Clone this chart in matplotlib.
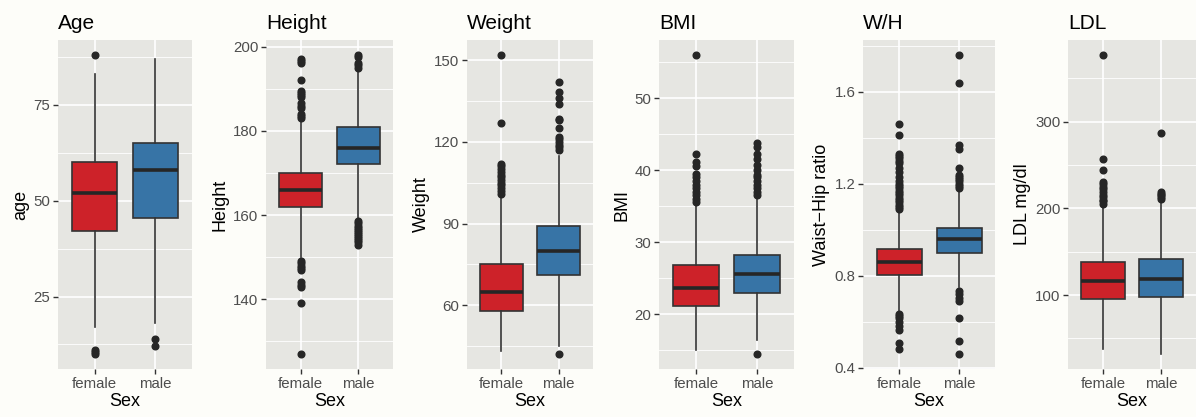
import matplotlib
matplotlib.use("Agg")
import matplotlib.pyplot as plt
from matplotlib.ticker import MultipleLocator

plt.rcParams['font.family'] = ['Liberation Sans', 'DejaVu Sans']

groups = ["female", "male"]
fill_colors = ["#CD2229", "#3774A6"]

titles = ["Age", "Height", "Weight", "BMI", "W/H", "LDL"]
ylabels = ["age", "Height", "Weight", "BMI", "Waist\u2212Hip ratio", "LDL mg/dl"]
major_steps = [25, 20, 30, 10, 0.4, 100]

# box summaries per panel: (female, male)
age_stats = [
    dict(q1=42, med=52, q3=60, whislo=17, whishi=83, fliers=[88, 11, 10.5, 10]),
    dict(q1=45.5, med=58, q3=65, whislo=18, whishi=87, fliers=[14, 12]),
]
height_stats = [
    dict(q1=162, med=166, q3=170, whislo=150, whishi=182,
         fliers=[197, 196.5, 196, 192, 189.5, 189, 188.5, 188, 186.5, 186, 185.5,
                 184, 183.5, 183, 149, 148.5, 148, 147.5, 147, 144, 143.5, 143, 139, 127]),
    dict(q1=172, med=176, q3=181, whislo=159, whishi=194.5,
         fliers=[198, 197.5, 196, 195.5, 195, 158.5, 158, 157.5, 157, 156.5, 156,
                 155.5, 155, 154.5, 154, 153.5, 153]),
]
weight_stats = [
    dict(q1=58, med=65, q3=75, whislo=43, whishi=100.5,
         fliers=[152, 127, 112, 111, 110, 109, 108, 107, 106, 105, 104, 103, 102, 101]),
    dict(q1=71, med=80, q3=89, whislo=45, whishi=115,
         fliers=[142, 138.5, 136, 134, 128.5, 128, 125, 122, 121, 120, 119, 118, 117, 42]),
]
bmi_stats = [
    dict(q1=21.2, med=23.7, q3=26.9, whislo=15, whishi=35.3,
         fliers=[56, 42.2, 41.2, 40.6, 39.5, 39, 38.5, 38, 37.5, 37, 36.5, 36, 35.6]),
    dict(q1=23, med=25.6, q3=28.3, whislo=16.5, whishi=36.2,
         fliers=[43.8, 43.2, 42.2, 41.5, 40.8, 40, 39.4, 39, 38.5, 38, 37.5, 37, 36.6, 14.5]),
]
wh_stats = [
    dict(q1=0.803, med=0.858, q3=0.918, whislo=0.645, whishi=1.075,
         fliers=[1.46, 1.41, 1.33, 1.32, 1.31, 1.30, 1.29, 1.27, 1.25, 1.23, 1.21, 1.20,
                 1.19, 1.18, 1.17, 1.16, 1.15, 1.14, 1.13, 1.12, 1.11, 1.10, 1.09,
                 0.635, 0.625, 0.615, 0.60, 0.58, 0.565, 0.51, 0.48]),
    dict(q1=0.900, med=0.958, q3=1.008, whislo=0.75, whishi=1.165,
         fliers=[1.76, 1.64, 1.37, 1.35, 1.27, 1.24, 1.23, 1.22, 1.21, 1.20, 1.19, 1.18,
                 0.735, 0.72, 0.705, 0.69, 0.615, 0.515, 0.46]),
]
ldl_stats = [
    dict(q1=95.5, med=116.5, q3=138.5, whislo=38, whishi=202,
         fliers=[377, 257, 244, 231, 228, 225, 222, 219, 216, 213, 210, 208, 205]),
    dict(q1=98, med=119, q3=142, whislo=32, whishi=207,
         fliers=[287, 219, 217, 215, 213, 211]),
]
panels = [age_stats, height_stats, weight_stats, bmi_stats, wh_stats, ldl_stats]

# panel extents in pixels (left, right)
W, H = 1196, 417
panel_x = [(58, 192), (266, 393), (467, 593), (659, 794), (863, 995), (1068, 1196)]
top, bottom = 40, 369

fig = plt.figure(figsize=(W / 100, H / 100), dpi=100, facecolor="#FDFDF9")

for i, stats in enumerate(panels):
    x0, x1 = panel_x[i]
    ax = fig.add_axes([x0 / W, 1 - bottom / H, (x1 - x0) / W, (bottom - top) / H])
    ax.set_facecolor("#E6E6E2")
    for s, g in zip(stats, groups):
        s["label"] = g
    bp = ax.bxp(stats, positions=[1, 2], widths=0.75, patch_artist=True,
                showcaps=False,
                boxprops=dict(edgecolor="#333333", linewidth=1.2),
                whiskerprops=dict(color="#333333", linewidth=1.2),
                medianprops=dict(color="#262626", linewidth=2.6, solid_capstyle="butt"),
                flierprops=dict(marker="o", markersize=4.8, markerfacecolor="#262626",
                                markeredgecolor="#262626"))
    for patch, c in zip(bp["boxes"], fill_colors):
        patch.set_facecolor(c)
    for b in bp["boxes"] + bp["whiskers"] + bp["medians"] + bp["fliers"]:
        b.set_zorder(3)

    ax.set_xlim(0.4, 2.6)
    ax.margins(y=0.05)
    ax.yaxis.set_major_locator(MultipleLocator(major_steps[i]))
    ax.yaxis.set_minor_locator(MultipleLocator(major_steps[i] / 2))
    ax.grid(True, which="major", color="white", linewidth=1.2, zorder=0)
    ax.grid(True, which="minor", axis="y", color="white", linewidth=0.6, zorder=0)
    ax.set_axisbelow(True)
    for sp in ax.spines.values():
        sp.set_visible(False)
    ax.tick_params(axis="both", which="major", length=3.5, width=1, color="#333333",
                   labelcolor="#4D4D4D", labelsize=10.8, pad=2)
    ax.tick_params(axis="y", which="minor", length=0)
    ax.set_title(titles[i], loc="left", fontsize=15, pad=8)
    ax.set_xlabel("Sex", fontsize=13, labelpad=2)
    ax.set_ylabel(ylabels[i], fontsize=13, labelpad=3)

fig.savefig("out.png", dpi=100, facecolor=fig.get_facecolor())
